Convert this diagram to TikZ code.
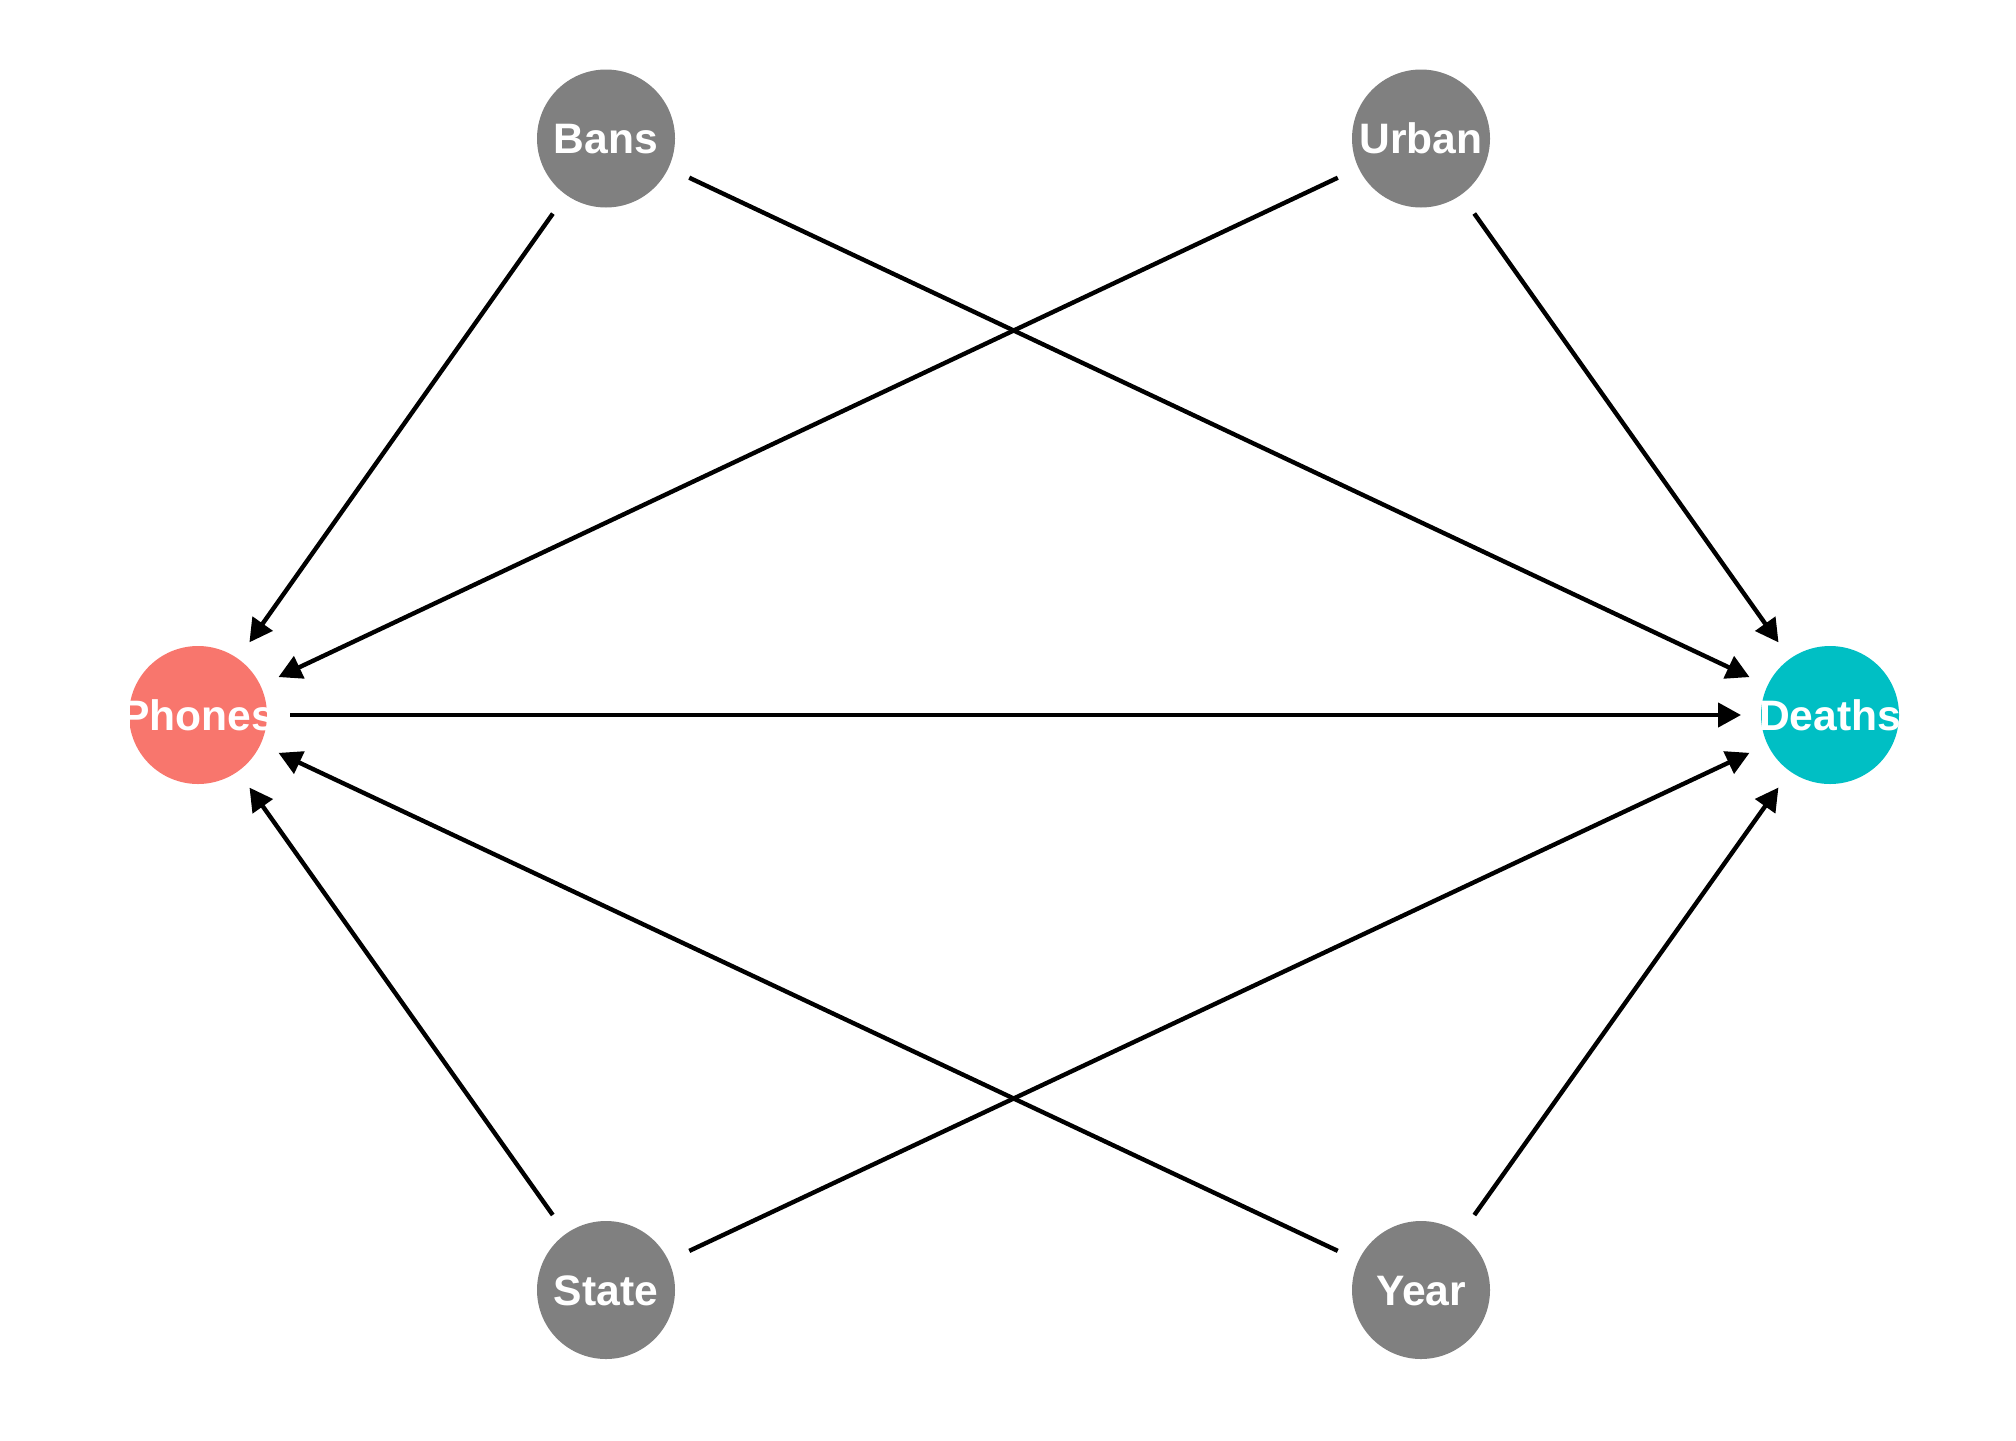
\documentclass[tikz,border=0pt]{standalone}
\usepackage{fontspec}
\setmainfont{Liberation Sans}
\usetikzlibrary{arrows.meta}
\definecolor{coral}{HTML}{F8766D}
\definecolor{teal}{HTML}{00BFC4}
\definecolor{greynode}{HTML}{808080}
\begin{document}
\begin{tikzpicture}[x=0.5pt,y=-0.5pt,
  dagnode/.style={circle, fill=#1, draw=none, minimum size=69pt, inner sep=0pt, outer sep=0pt},
  dagnode/.default=greynode,
  lab/.style={text=white, font=\fontsize{21.3}{25}\selectfont\bfseries,
              inner sep=0pt, text height=15.25pt, text depth=0pt},
  edge/.style={line width=2.2pt, -{Triangle[length=11.5pt,width=12pt]},
               shorten <=11.5pt, shorten >=10pt}]
\useasboundingbox (0,0) rectangle (2016,1440);
% nodes
\node[dagnode] (bans)   at (606,138.5) {};
\node[dagnode] (urban)  at (1421,138.5) {};
\node[dagnode=coral] (phones) at (198,715) {};
\node[dagnode=teal]  (deaths) at (1830,715) {};
\node[dagnode] (state)  at (606,1290) {};
\node[dagnode] (year)   at (1421,1290) {};
% labels
\node[lab] (lbans)   at (bans)   {Bans};
\node[lab] (lurban)  at (urban)  {Urban};
\node[lab] (lphones) at (phones) {Phones};
\node[lab] (ldeaths) at (deaths) {Deaths};
\node[lab] (lstate)  at (state)  {State};
\node[lab] (lyear)   at (year)   {Year};
% edges
\draw[edge] (bans)   -- (phones);
\draw[edge] (bans)   -- (deaths);
\draw[edge] (urban)  -- (phones);
\draw[edge] (urban)  -- (deaths);
\draw[edge] (state)  -- (phones);
\draw[edge] (state)  -- (deaths);
\draw[edge] (year)   -- (phones);
\draw[edge] (year)   -- (deaths);
\draw[edge] (phones) -- (deaths);
\end{tikzpicture}
\end{document}
